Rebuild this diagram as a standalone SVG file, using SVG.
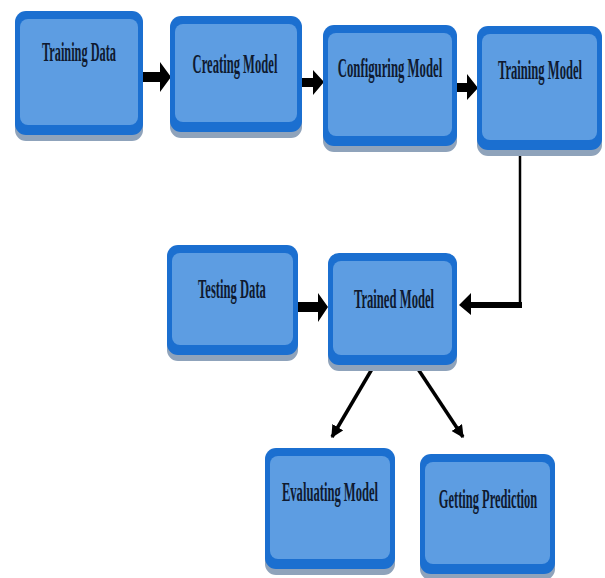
<svg xmlns="http://www.w3.org/2000/svg" width="605" height="578" viewBox="0 0 605 578">
<defs>
<style>
.sh{fill:#8fa3bb}
.out{fill:#1b6fd0}
.in{fill:#5d9de2}
.lbl{font-family:"Liberation Serif","Times New Roman",serif;font-size:28px;font-weight:bold;fill:#0f1a30;text-anchor:middle}
.blk{fill:#000}
.ln{stroke:#000;fill:none}
</style>
<marker id="ah" viewBox="0 0 10 10" refX="9" refY="5" markerWidth="3.6" markerHeight="3.6" orient="auto" markerUnits="strokeWidth">
<path d="M0,0 L10,5 L0,10 z" fill="#000"/>
</marker>
</defs>
<rect width="605" height="578" fill="#fff"/>

<g id="connectors">
<polygon class="blk" points="143,72 160,72 160,62 171,77 160,92 160,82 143,82"/>
<polygon class="blk" points="302,78 313,78 313,70 324,82 313,95 313,87 302,87"/>
<polygon class="blk" points="450,83 467,83 467,74 478,88 467,100 467,92 450,92"/>
<path class="ln" d="M520,151 V305" stroke-width="2.5"/>
<polygon class="blk" points="522,302 471,302 471,293 459,305 471,315 471,308 522,308"/>
<polygon class="blk" points="298,302 318,302 318,293 328,307 318,322 318,312 298,312"/>
<path class="ln" d="M372,369 L332,437" stroke-width="3.5" marker-end="url(#ah)"/>
<path class="ln" d="M418,369 L463,437" stroke-width="3.5" marker-end="url(#ah)"/>
</g>

<g id="n1">
<rect class="sh" x="15" y="17" width="128" height="124" rx="11"/>
<rect class="out" x="15" y="11" width="128" height="124" rx="11"/>
<rect class="in" x="20" y="19" width="118" height="106" rx="8"/>
<text class="lbl" transform="translate(79,61) scale(0.44,1)">Training Data</text>
</g>
<g id="n2">
<rect class="sh" x="170" y="22" width="132" height="116" rx="11"/>
<rect class="out" x="170" y="16" width="132" height="116" rx="11"/>
<rect class="in" x="175" y="24" width="122" height="98" rx="8"/>
<text class="lbl" transform="translate(235,73) scale(0.45,1)">Creating Model</text>
</g>
<g id="n3">
<rect class="sh" x="323" y="31" width="134" height="121" rx="11"/>
<rect class="out" x="323" y="25" width="134" height="121" rx="11"/>
<rect class="in" x="328" y="33" width="124" height="103" rx="8"/>
<text class="lbl" transform="translate(390,77) scale(0.455,1)">Configuring Model</text>
</g>
<g id="n4">
<rect class="sh" x="477" y="32" width="125" height="124" rx="11"/>
<rect class="out" x="477" y="26" width="125" height="124" rx="11"/>
<rect class="in" x="482" y="34" width="115" height="106" rx="8"/>
<text class="lbl" transform="translate(540,79) scale(0.45,1)">Training Model</text>
</g>
<g id="n5">
<rect class="sh" x="167" y="251" width="131" height="110" rx="11"/>
<rect class="out" x="167" y="245" width="131" height="110" rx="11"/>
<rect class="in" x="172" y="253" width="121" height="92" rx="8"/>
<text class="lbl" transform="translate(232,298) scale(0.45,1)">Testing Data</text>
</g>
<g id="n6">
<rect class="sh" x="328" y="259" width="129" height="112" rx="11"/>
<rect class="out" x="328" y="253" width="129" height="112" rx="11"/>
<rect class="in" x="333" y="261" width="119" height="94" rx="8"/>
<text class="lbl" transform="translate(394,308) scale(0.452,1)">Trained Model</text>
</g>
<g id="n7">
<rect class="sh" x="265" y="454" width="130" height="121" rx="11"/>
<rect class="out" x="265" y="448" width="130" height="121" rx="11"/>
<rect class="in" x="270" y="456" width="120" height="103" rx="8"/>
<text class="lbl" transform="translate(330,501) scale(0.45,1)">Evaluating Model</text>
</g>
<g id="n8">
<rect class="sh" x="420" y="460" width="135" height="120" rx="11"/>
<rect class="out" x="420" y="454" width="135" height="120" rx="11"/>
<rect class="in" x="425" y="462" width="125" height="102" rx="8"/>
<text class="lbl" transform="translate(488,508) scale(0.445,1)">Getting Prediction</text>
</g>
</svg>
